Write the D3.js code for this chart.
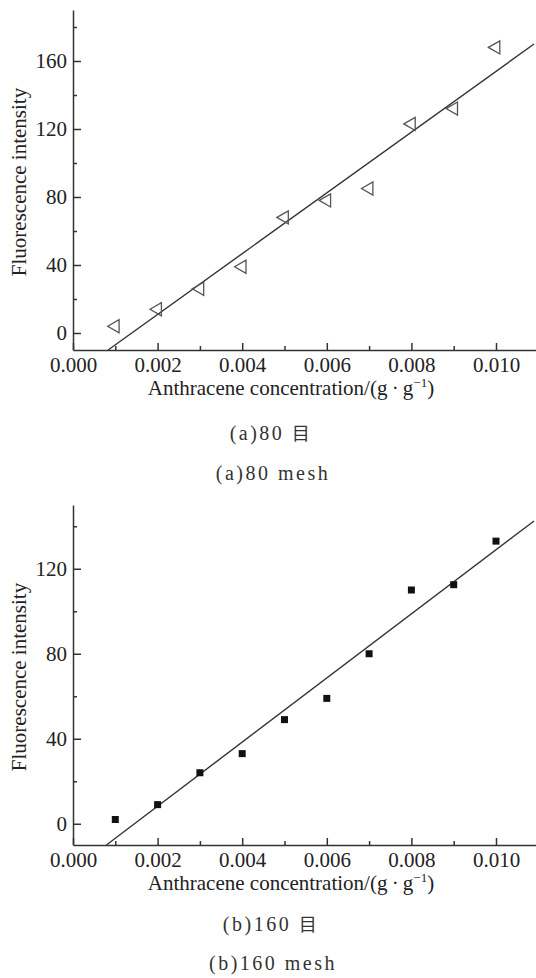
<!DOCTYPE html>
<html>
<head>
<meta charset="utf-8">
<script src="https://cdn.jsdelivr.net/npm/d3@7"></script>
<style>
  body { margin: 0; background: #fff; }
  text { font-family: "Liberation Serif", "Times New Roman", serif; fill: #222; }
  .cap { font-family: "Liberation Serif", "Noto Sans CJK SC", serif; font-size: 20px; letter-spacing: 2.5px; fill: #333; }
</style>
</head>
<body>
<div id="chart"></div>
<script>
// Anthracene concentration (g/g) for each sample
const concentration = [0.001, 0.002, 0.003, 0.004, 0.005, 0.006, 0.007, 0.008, 0.009, 0.010];
// Fluorescence intensity, 80 mesh and 160 mesh
const mesh80 = [4, 14, 26, 39, 68, 78, 85, 123, 132, 168];
const mesh160 = [2, 9, 24, 33, 49, 59, 80, 110, 112.5, 133];
// fitted lines, end points
const fit80 = [[0.00083, -10], [0.0109, 170]];
const fit160 = [[0.00079, -10], [0.0109, 142.5]];

const xTicks = [0, 0.002, 0.004, 0.006, 0.008, 0.010];
const xMinor = [0.001, 0.003, 0.005, 0.007, 0.009, 0.011];
const yTicks80 = [0, 40, 80, 120, 160];
const yMinor80 = [-20, 20, 60, 100, 140, 180];
const yTicks160 = [0, 40, 80, 120];
const yMinor160 = [-20, 20, 60, 100, 140];

const W = 536, H = 978;
const svg = d3.select("#chart").append("svg")
  .attr("width", W)
  .attr("height", H);

svg.append("rect").attr("width", W).attr("height", H).attr("fill", "#fff");

function drawPanel(opt) {
  const g = svg.append("g");

  const x = d3.scaleLinear().domain([0, 0.011]).range([73, 73 + 0.011 * 42300]);
  const y = d3.scaleLinear().domain(opt.yDomain).range([opt.bottom, opt.top]);

  // x axis, ticks pointing inward
  g.append("g")
    .attr("transform", `translate(0,${opt.bottom})`)
    .call(d3.axisBottom(x).tickValues(xTicks).tickSize(-7).tickSizeOuter(0)
      .tickPadding(7).tickFormat(d3.format(".3f")))
    .call(a => a.selectAll("text").style("font-size", "21px"));

  g.append("g")
    .attr("transform", `translate(0,${opt.bottom})`)
    .call(d3.axisBottom(x).tickValues(xMinor).tickSize(-4).tickSizeOuter(0).tickFormat(""))
    .call(a => a.select(".domain").remove());

  // y axis
  g.append("g")
    .attr("transform", "translate(73,0)")
    .call(d3.axisLeft(y).tickValues(opt.yTicks).tickSize(-8).tickSizeOuter(0)
      .tickPadding(6).tickFormat(d3.format("d")))
    .call(a => a.selectAll("text").style("font-size", "21px"));

  g.append("g")
    .attr("transform", "translate(73,0)")
    .call(d3.axisLeft(y).tickValues(opt.yMinor.filter(v => v > opt.yDomain[0] && v < opt.yDomain[1]))
      .tickSize(-4).tickSizeOuter(0).tickFormat(""))
    .call(a => a.select(".domain").remove());

  g.selectAll(".domain, .tick line").attr("stroke", "#333").attr("stroke-width", 1.5);

  // fitted line
  g.append("path")
    .datum(opt.fit)
    .attr("fill", "none")
    .attr("stroke", "#333")
    .attr("stroke-width", 1.4)
    .attr("d", d3.line().x(d => x(d[0])).y(d => y(d[1])));

  // points
  g.selectAll("path.pt")
    .data(opt.values)
    .enter()
    .append("path")
    .attr("class", "pt")
    .attr("transform", (d, i) => `translate(${x(concentration[i])},${y(d)}) rotate(${opt.rotate})`)
    .attr("d", d3.symbol(opt.symbol, opt.size)())
    .attr("fill", opt.fill)
    .attr("stroke", opt.stroke)
    .attr("stroke-width", 1.3);

  // axis titles
  g.append("text")
    .attr("x", 291)
    .attr("y", opt.bottom + 45)
    .attr("text-anchor", "middle")
    .style("font-size", "21px")
    .html('Anthracene concentration/(g\u2009\u00b7\u2009g<tspan dy="-8" font-size="13px">\u22121</tspan><tspan dy="8">)</tspan>');

  g.append("text")
    .attr("transform", `translate(26,${(opt.top + opt.bottom) / 2 + 2}) rotate(-90)`)
    .attr("text-anchor", "middle")
    .style("font-size", "21px")
    .text("Fluorescence intensity");

  // captions
  g.append("text").attr("class", "cap")
    .attr("x", 271).attr("y", opt.capY[0])
    .attr("text-anchor", "middle")
    .html(opt.caps[0] + '<tspan font-size="18px">\u76ee</tspan>');
  g.append("text").attr("class", "cap")
    .attr("x", 273).attr("y", opt.capY[1])
    .attr("text-anchor", "middle")
    .text(opt.caps[1]);
}

drawPanel({
  yDomain: [-10, 190], top: 10, bottom: 350,
  yTicks: yTicks80, yMinor: yMinor80,
  values: mesh80, fit: fit80,
  symbol: d3.symbolTriangle, size: 75, rotate: -90,
  fill: "none", stroke: "#555",
  caps: ["(a)80 ", "(a)80 mesh"], capY: [440, 480]
});

drawPanel({
  yDomain: [-10, 150], top: 505, bottom: 845,
  yTicks: yTicks160, yMinor: yMinor160,
  values: mesh160, fit: fit160,
  symbol: d3.symbolSquare, size: 49, rotate: 0,
  fill: "#111", stroke: "none",
  caps: ["(b)160 ", "(b)160 mesh"], capY: [931, 970]
});
</script>
</body>
</html>
